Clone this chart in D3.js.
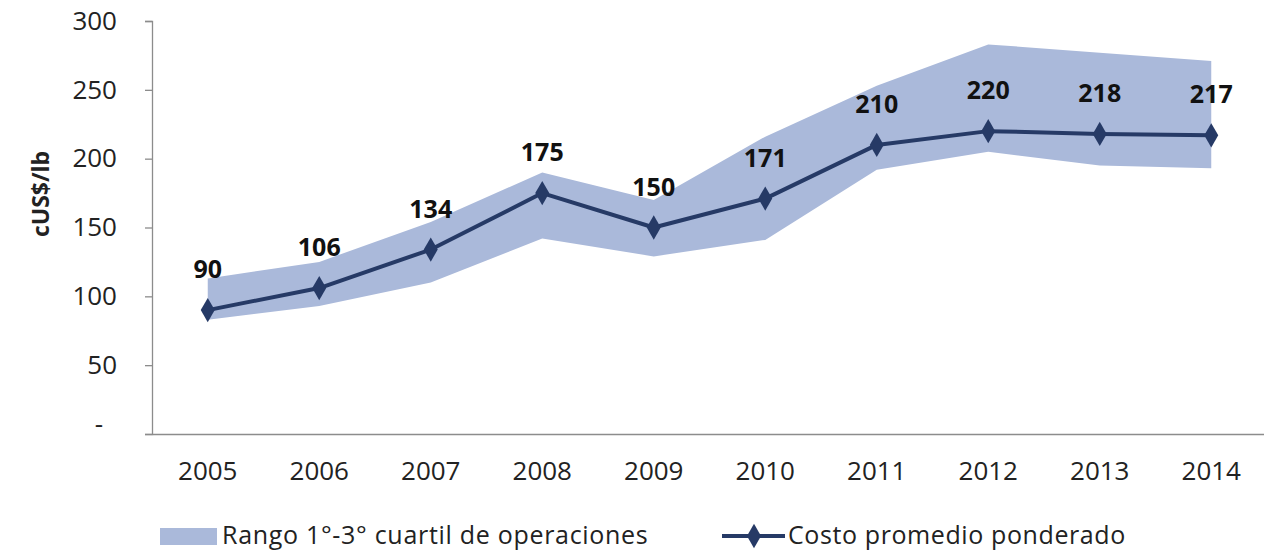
<!DOCTYPE html>
<html>
<head>
<meta charset="utf-8">
<script src="https://cdn.jsdelivr.net/npm/d3@7"></script>
<style>
  html, body { margin: 0; padding: 0; background: #ffffff; }
  svg { display: block; font-family: "Open Sans", "Noto Sans", sans-serif; }
</style>
</head>
<body>
<svg id="chart" width="1264" height="553"></svg>
<script>
// Years on the category axis
const years = ["2005", "2006", "2007", "2008", "2009", "2010", "2011", "2012", "2013", "2014"];
// Weighted average cost (cUS$/lb)
const avgCost = [90, 106, 134, 175, 150, 171, 210, 220, 218, 217];
// 1st and 3rd quartile of operations (cUS$/lb)
const q1 = [83, 93, 110, 142, 129, 141, 192, 205, 195, 193];
const q3 = [113, 125, 154, 190, 170, 216, 253, 283, 277, 271];
// Y axis ticks
const yTicks = [0, 50, 100, 150, 200, 250, 300];

const svg = d3.select("#chart");
const margin = { left: 152, right: -3, top: 21, bottom: 119 };
const W = 1264, H = 553;

const x = d3.scaleBand().domain(years)
  .range([margin.left, W - margin.right]).padding(0);
const y = d3.scaleLinear().domain([0, 300])
  .range([H - margin.bottom, margin.top]);
const cx = d => x(d) + x.bandwidth() / 2;

const bandColor = "#aab9da";
const lineColor = "#263a66";
const axisColor = "#8c8c8c";
const textColor = "#222222";

// Interquartile band
const area = d3.area()
  .x((d, i) => cx(years[i]))
  .y0((d, i) => y(q1[i]))
  .y1((d, i) => y(q3[i]));
svg.append("path")
  .datum(years)
  .attr("d", area)
  .attr("fill", bandColor);

// Y axis
const yAxis = d3.axisLeft(y).tickValues(yTicks).tickSize(7).tickPadding(28)
  .tickFormat(d => d === 0 ? "-" : d3.format("d")(d));
const gy = svg.append("g").attr("transform", `translate(${margin.left},0)`).call(yAxis);
gy.select(".domain").attr("stroke", axisColor).attr("stroke-width", 1.3);
gy.selectAll(".tick line").attr("stroke", axisColor).attr("stroke-width", 1.3);
gy.selectAll(".tick text").attr("font-size", 26).attr("fill", textColor)
  .attr("font-family", "Open Sans, sans-serif");
gy.selectAll(".tick text").filter(d => d === 0).attr("dx", -14).attr("dy", "-0.05em");

// X axis with ticks on category boundaries
const xAxis = d3.axisBottom(x).tickSize(0).tickPadding(28);
const gx = svg.append("g").attr("transform", `translate(0,${y(0)})`).call(xAxis);
gx.select(".domain").attr("stroke", axisColor).attr("stroke-width", 1.3);
gx.selectAll(".tick text").attr("font-size", 26).attr("fill", textColor)
  .attr("font-family", "Open Sans, sans-serif");
gx.selectAll(".boundary")
  .data(years)
  .join("line")
  .attr("class", "boundary")
  .attr("x1", d => x(d)).attr("x2", d => x(d))
  .attr("y1", y(0)).attr("y2", y(0) + 8)
  .attr("stroke", axisColor).attr("stroke-width", 1.3);

// Y axis title
svg.append("text")
  .attr("transform", "translate(49,194) rotate(-90)")
  .attr("text-anchor", "middle")
  .attr("font-size", 23).attr("font-weight", "bold").attr("fill", textColor)
  .text("cUS$/lb");

// Average cost line
const line = d3.line()
  .x((d, i) => cx(years[i]))
  .y(d => y(d));
svg.append("path")
  .datum(avgCost)
  .attr("d", line)
  .attr("fill", "none")
  .attr("stroke", lineColor)
  .attr("stroke-width", 4)
  .attr("stroke-linejoin", "round");

// Diamond markers
const diamond = d3.symbol().type(d3.symbolDiamond).size(170);
svg.selectAll(".marker")
  .data(avgCost)
  .join("path")
  .attr("class", "marker")
  .attr("d", diamond)
  .attr("transform", (d, i) => `translate(${cx(years[i])},${y(d)})`)
  .attr("fill", lineColor);

// Value labels
svg.selectAll(".val")
  .data(avgCost)
  .join("text")
  .attr("class", "val")
  .attr("x", (d, i) => cx(years[i]))
  .attr("y", d => y(d) - 32)
  .attr("text-anchor", "middle")
  .attr("font-size", 25).attr("font-weight", "bold").attr("fill", "#111")
  .text(d => d);

// Legend
const lg = svg.append("g").attr("transform", "translate(0,536)");
lg.append("rect").attr("x", 160).attr("y", -8).attr("width", 57).attr("height", 17)
  .attr("fill", bandColor);
lg.append("text").attr("x", 222).attr("y", 8).attr("font-size", 25).attr("fill", textColor)
  .attr("letter-spacing", 0.7)
  .text("Rango 1°-3° cuartil de operaciones");
lg.append("line").attr("x1", 722).attr("x2", 785).attr("y1", 0).attr("y2", 0)
  .attr("stroke", lineColor).attr("stroke-width", 4);
lg.append("path").attr("d", diamond).attr("transform", "translate(754,0)").attr("fill", lineColor);
lg.append("text").attr("x", 788).attr("y", 8).attr("font-size", 25).attr("fill", textColor)
  .attr("letter-spacing", 0.6)
  .text("Costo promedio ponderado");
</script>
</body>
</html>
